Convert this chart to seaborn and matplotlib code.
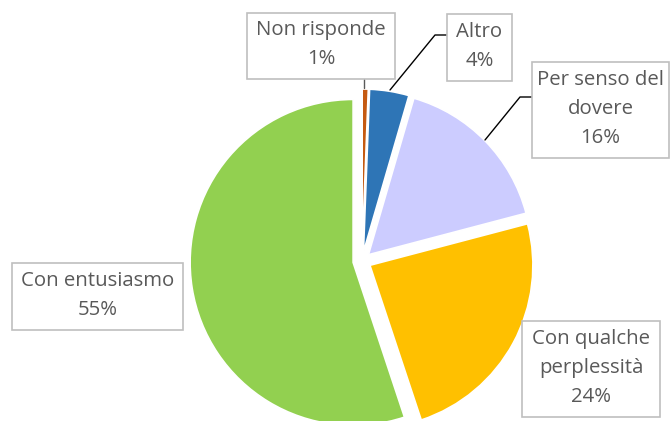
import matplotlib
matplotlib.use("Agg")
import matplotlib.pyplot as plt
import matplotlib.patches as mpatches
import seaborn as sns

# dati
labels = ["Non risponde", "Altro", "Per senso del\ndovere", "Con qualche\nperplessità", "Con entusiasmo"]
values = [0.6, 3.9, 16.4, 24.0, 55.1]
colors = ["#C55A11", "#2E75B6", "#CCCCFF", "#FFC000", "#92D050"]

sns.set_theme(style="white")
plt.rcParams["font.family"] = ["Open Sans", "DejaVu Sans"]

W, H = 670, 421
fig = plt.figure(figsize=(W / 100, H / 100), dpi=100)
ax = fig.add_axes([0, 0, 1, 1])

# torta esplosa, in senso orario dall'alto (explode in unità dati = pixel)
ax.pie(values, colors=colors, startangle=90, counterclock=False,
       center=(362, H - 261), radius=163, explode=[9] * len(values),
       wedgeprops=dict(edgecolor="white", linewidth=1.2), frame=True)
ax.set_xlim(0, W)
ax.set_ylim(0, H)
ax.set_aspect("equal")
ax.axis("off")

# riquadri delle etichette (coordinate immagine: x0, y0, x1, y1)
boxes = [(247, 13, 395, 79), (447, 14, 512, 81), (532, 62, 669, 158),
         (522, 321, 660, 417), (12, 263, 183, 330)]

for lab, v, (x0, y0, x1, y1) in zip(labels, values, boxes):
    ax.add_patch(mpatches.Rectangle((x0, H - y1), x1 - x0, y1 - y0, fill=True,
                                    facecolor="white", edgecolor="#BFBFBF",
                                    linewidth=1.2, zorder=3))
    ax.text((x0 + x1) / 2, H - (y0 + y1) / 2 + 1, f"{lab}\n{round(v)}%",
            ha="center", va="center", fontsize=14.7, color="#595959",
            linespacing=1.6, zorder=4)

# linee guida
leaders = [([364, 364], [79, 88], "#595959"),
           ([447, 435, 390], [35, 35, 90], "black"),
           ([532, 520, 485], [97, 97, 140], "black")]
for xs, ys, c in leaders:
    ax.plot(xs, [H - y for y in ys], color=c, linewidth=1, zorder=2)

fig.savefig("out.png", dpi=100)
